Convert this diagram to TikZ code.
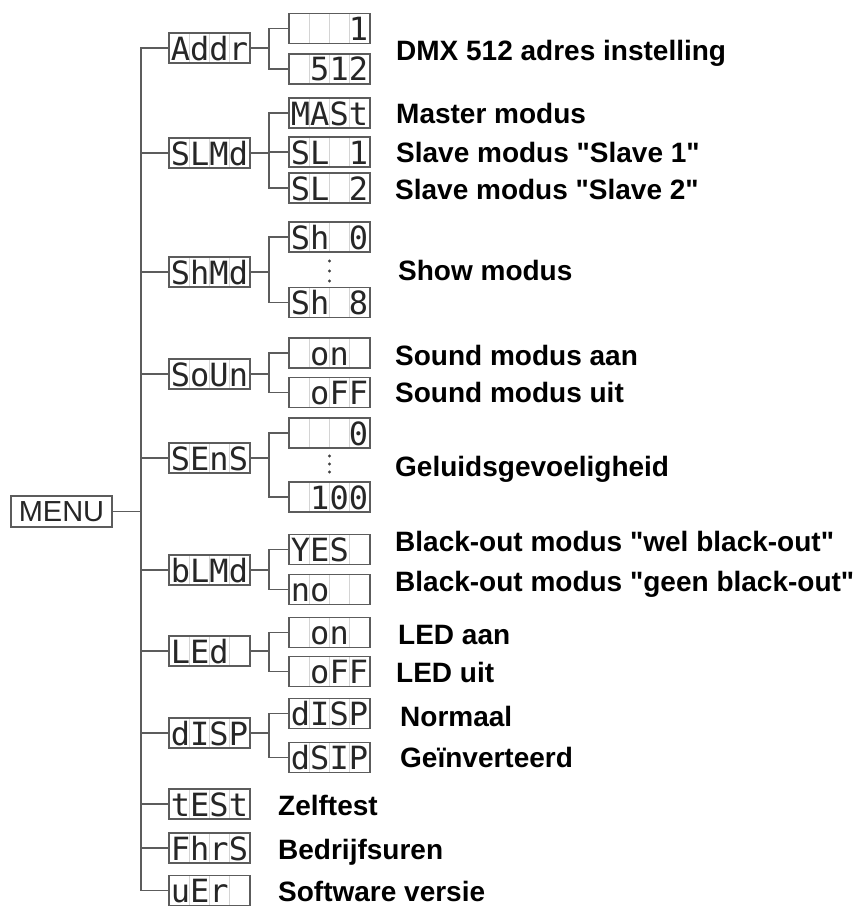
\documentclass[tikz,border=0pt]{standalone}
\usepackage{fontspec}
\setmainfont{Liberation Sans}[Ligatures=TeXOff]
\newfontfamily\lcdfont{DejaVu Sans Mono}
\usetikzlibrary{positioning,calc}
\definecolor{wiregray}{HTML}{5C5C5C}
\definecolor{cellgray}{HTML}{D4D4D4}
\newcommand\nix{\phantom{0}}
\tikzset{
  lcd/.style={rectangle, draw=wiregray, line width=1.3pt, minimum width=81pt, minimum height=30pt, inner sep=0pt,
    text height=24pt, text depth=0pt, font=\lcdfont\fontsize{32}{32}\selectfont, text=black!85,
    path picture={\foreach \f in {0.25,0.5,0.75}
      \draw[cellgray, line width=0.9pt] ($(path picture bounding box.south west)!\f!(path picture bounding box.south east)$)
        -- ($(path picture bounding box.north west)!\f!(path picture bounding box.north east)$);}},
  menubox/.style={rectangle, draw=wiregray, line width=1.3pt, minimum width=101pt, minimum height=31pt, inner sep=0pt,
    font=\fontsize{29}{29}\selectfont, text=black!85},
  lbl/.style={anchor=base west, inner sep=0pt, font=\bfseries\fontsize{28}{28}\selectfont},
  dot/.style={circle, fill=black!75, inner sep=0pt, minimum size=3.2pt},
  wire/.style={draw=wiregray, line width=1.3pt},
}

\begin{document}
\begin{tikzpicture}[x=1pt, y=-1pt]
  \useasboundingbox (0,0) rectangle (856,907);
  % root
  \node[menubox] (menu) at (61.5,511.5) {MENU};
  % first level
  \node[lcd] (addr) at (209.5,48) {Addr};
  \node[lcd] (slmd) at (209.5,153) {SLMd};
  \node[lcd] (shmd) at (209.5,272) {ShMd};
  \node[lcd] (soun) at (209.5,374) {SoUn};
  \node[lcd] (sens) at (209.5,458) {SEnS};
  \node[lcd] (blmd) at (209.5,570) {bLMd};
  \node[lcd] (led)  at (209.5,651) {LEd\nix};
  \node[lcd] (disp) at (209.5,733) {dISP};
  \node[lcd] (test) at (209.5,804) {tESt};
  \node[lcd] (fhrs) at (209.5,848) {FhrS};
  \node[lcd] (ver)  at (209.5,890.5) {uEr\nix};
  % second level
  \node[lcd] (a1) at (329.5,28.5) {\nix\nix\nix1};
  \node[lcd] (a2) at (329.5,69) {\nix512};
  \node[lcd] (s1) at (329.5,113) {MASt};
  \node[lcd] (s2) at (329.5,152) {SL\nix1};
  \node[lcd] (s3) at (329.5,188) {SL\nix2};
  \node[lcd] (h1) at (329.5,237) {Sh\nix0};
  \node[lcd] (h2) at (329.5,302.5) {Sh\nix8};
  \node[lcd] (o1) at (329.5,353) {\nix on\nix};
  \node[lcd] (o2) at (329.5,392.5) {\nix oFF};
  \node[lcd] (e1) at (329.5,433) {\nix\nix\nix0};
  \node[lcd] (e2) at (329.5,497) {\nix100};
  \node[lcd] (b1) at (329.5,549.5) {YES\nix};
  \node[lcd] (b2) at (329.5,589.5) {no\nix\nix};
  \node[lcd] (l1) at (329.5,632.5) {\nix on\nix};
  \node[lcd] (l2) at (329.5,671.5) {\nix oFF};
  \node[lcd] (d1) at (329.5,713.5) {dISP};
  \node[lcd] (d2) at (329.5,757.5) {dSIP};
  % skipped values
  \foreach \k in {0,1,2} {
    \node[dot] (hd\k) at (329.5,261+10*\k) {};
    \node[dot] (ed\k) at (329.5,456+8*\k) {};
  }
  % texts
  \node[lbl] (t1)  at (396,60)  {DMX 512 adres instelling};
  \node[lbl] (t2)  at (396,123) {Master modus};
  \node[lbl] (t3)  at (396,162) {Slave modus "Slave 1"};
  \node[lbl] (t4)  at (395,199) {Slave modus "Slave 2"};
  \node[lbl] (t5)  at (398,280) {Show modus};
  \node[lbl] (t6)  at (395,365) {Sound modus aan};
  \node[lbl] (t7)  at (395,402) {Sound modus uit};
  \node[lbl] (t8)  at (395,476) {Geluidsgevoeligheid};
  \node[lbl] (t9)  at (395,551) {Black-out modus "wel black-out"};
  \node[lbl] (t10) at (395,591) {Black-out modus "geen black-out"};
  \node[lbl] (t11) at (398,644) {LED aan};
  \node[lbl] (t12) at (396,682) {LED uit};
  \node[lbl] (t13) at (400,726) {Normaal};
  \node[lbl] (t14) at (400,767) {Geïnverteerd};
  \node[lbl] (t15) at (278,815) {Zelftest};
  \node[lbl] (t16) at (278,859) {Bedrijfsuren};
  \node[lbl] (t17) at (278,901) {Software versie};
  % spine
  \coordinate (spine) at (141,0);
  \coordinate (fork) at (269,0);
  \draw[wire] (addr.west) -| (spine |- ver.west) -- (ver.west);
  \draw[wire] (menu.east) -- (spine |- menu.east);
  \foreach \n in {slmd,shmd,soun,sens,blmd,led,disp,test,fhrs} \draw[wire] (spine |- \n.west) -- (\n.west);
  % forks
  \foreach \p/\a/\b in {addr/a1/a2,slmd/s1/s3,shmd/h1/h2,soun/o1/o2,sens/e1/e2,blmd/b1/b2,led/l1/l2,disp/d1/d2} {
    \draw[wire] (\p.east) -- (fork |- \p.east);
    \draw[wire] (\a.west) -| (fork |- \b.west) -- (\b.west);
  }
  \draw[wire] (fork |- s2.west) -- (s2.west);
\end{tikzpicture}
\end{document}
